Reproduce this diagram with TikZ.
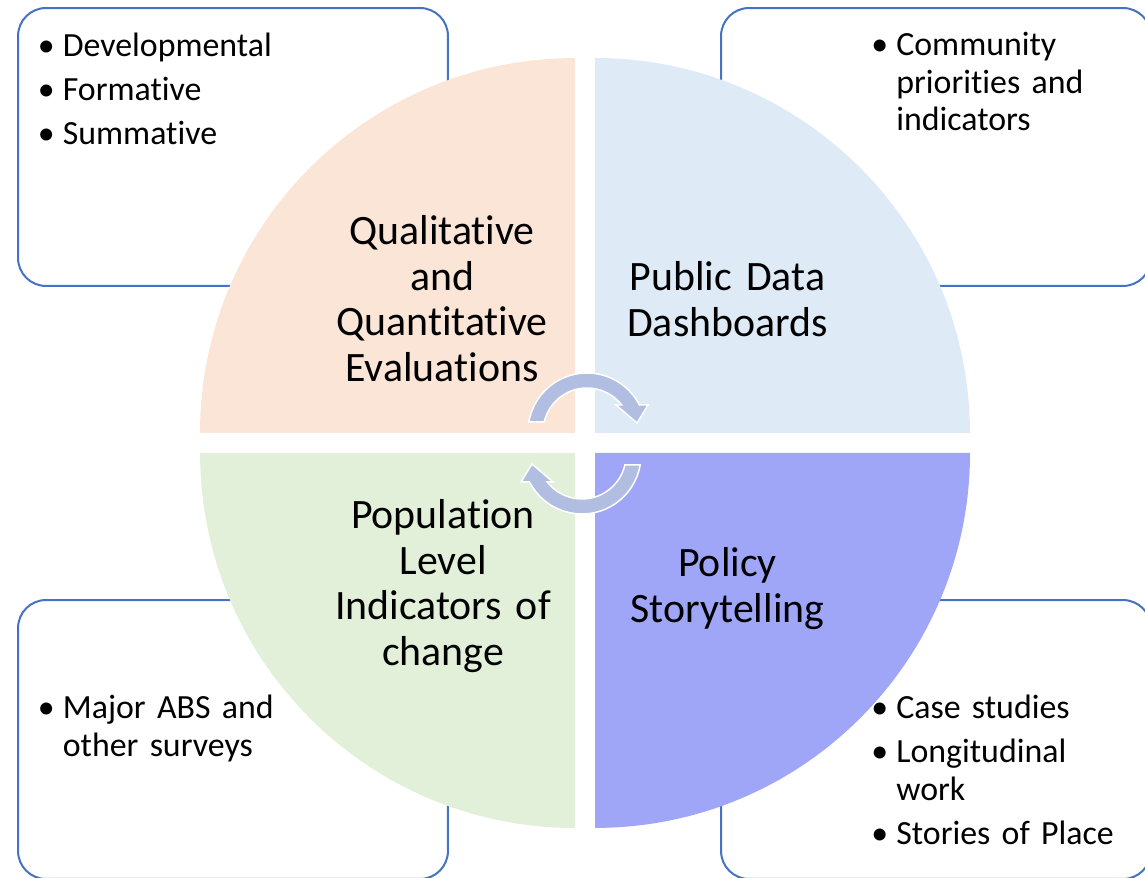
\documentclass[tikz,border=0pt]{standalone}
\usepackage{fontspec}
\setmainfont{Carlito}[Ligatures={NoCommon,NoContextual}]
\definecolor{boxblue}{HTML}{4472C4}
\definecolor{qpeach}{HTML}{FBE5D6}
\definecolor{qblue}{HTML}{DEEBF7}
\definecolor{qgreen}{HTML}{E2F0D9}
\definecolor{qviolet}{HTML}{9FA6F8}
\definecolor{arrowfill}{RGB}{177,190,225}
\newcommand\bigfont{\fontsize{23.81pt}{26.08pt}\selectfont}
\newcommand\smallfont{\fontsize{19.27pt}{21.54pt}\selectfont}
\newcommand\bitem[1]{\par\noindent\hangindent=0.5cm\hangafter=1\makebox[0.5cm][l]{\strut\textbullet}#1\par}
\tikzset{
  listbox/.style={draw=boxblue, line width=0.04cm, rounded corners=0.56cm,
    minimum width=8.6cm, minimum height=5.56cm, inner sep=0pt},
  listtext/.style={anchor=north west, inner sep=0pt, text width=#1, align=left, font=\smallfont},
  bigtext/.style={anchor=north, inner sep=0pt, text width=6cm, align=center, font=\bigfont},
  cyclearrow/.style={fill=arrowfill, draw=white, line width=0.03cm, line join=miter},
}
\begin{document}
\begin{tikzpicture}[x=0.02cm,y=0.02cm]
\useasboundingbox (0,0) rectangle (1145,878);
\clip (0,0) rectangle (1145,878);
% side boxes
\node[listbox] (boxTL) at (233,731) {};
\node[listbox] (boxTR) at (936,731) {};
\node[listbox, minimum height=5.58cm] (boxBL) at (233,138.5) {};
\node[listbox, minimum height=5.58cm] (boxBR) at (936,138.5) {};
% quadrants
\fill[qpeach] (575,445) -- (200,445) arc[start angle=180, end angle=90, radius=7.5cm] -- cycle;
\fill[qblue] (595,445) -- (595,820) arc[start angle=90, end angle=0, radius=7.5cm] -- cycle;
\fill[qgreen] (575,425) -- (575,50) arc[start angle=270, end angle=180, radius=7.5cm] -- cycle;
\fill[qviolet] (595,425) -- (970,425) arc[start angle=0, end angle=-90, radius=7.5cm] -- cycle;
% cycle arrows
\path[cyclearrow, shift={(587,446)}] (170.25:59) arc[start angle=170.25, end angle=27.23, radius=1.18cm]
  -- (61,27) -- (50,9) -- (29,27) -- (37.86:44) arc[start angle=37.86, end angle=166.86, radius=0.88cm] -- cycle;
\begin{scope}[rotate around={180:(584.5,434.5)}]
\path[cyclearrow, shift={(587,446)}] (170.25:59) arc[start angle=170.25, end angle=27.23, radius=1.18cm]
  -- (61,27) -- (50,9) -- (29,27) -- (37.86:44) arc[start angle=37.86, end angle=166.86, radius=0.88cm] -- cycle;
\end{scope}
% quadrant labels
\node[bigtext] (labQQ) at (442,666.2) {\strut Qualitative\\and\\Quantitative\\Evaluations};
\node[bigtext] (labPD) at (727.5,620.2) {\strut Public Data\\Dashboards};
\node[bigtext] (labPL) at (443,382.2) {\strut Population\\Level\\Indicators of\\change};
\node[bigtext] (labPS) at (727.5,334.2) {\strut Policy\\Storytelling};
% lists
\node[listtext=7.6cm] (listTL) at (37.5,866.5) {\setlength\parskip{0.13cm}\bitem{Developmental}\bitem{Formative}\bitem{Summative}};
\node[listtext=5.5cm] (listTR) at (871,867.5) {\setlength\parskip{0.13cm}\bitem{Community\newline priorities and\newline indicators}};
\node[listtext=7.6cm] (listBL) at (37.5,204.5) {\setlength\parskip{0.13cm}\bitem{Major ABS and\newline other surveys}};
\node[listtext=5.5cm] (listBR) at (871,204.5) {\setlength\parskip{0.13cm}\bitem{Case studies}\bitem{Longitudinal\newline work}\bitem{Stories of Place}};
\end{tikzpicture}
\end{document}
